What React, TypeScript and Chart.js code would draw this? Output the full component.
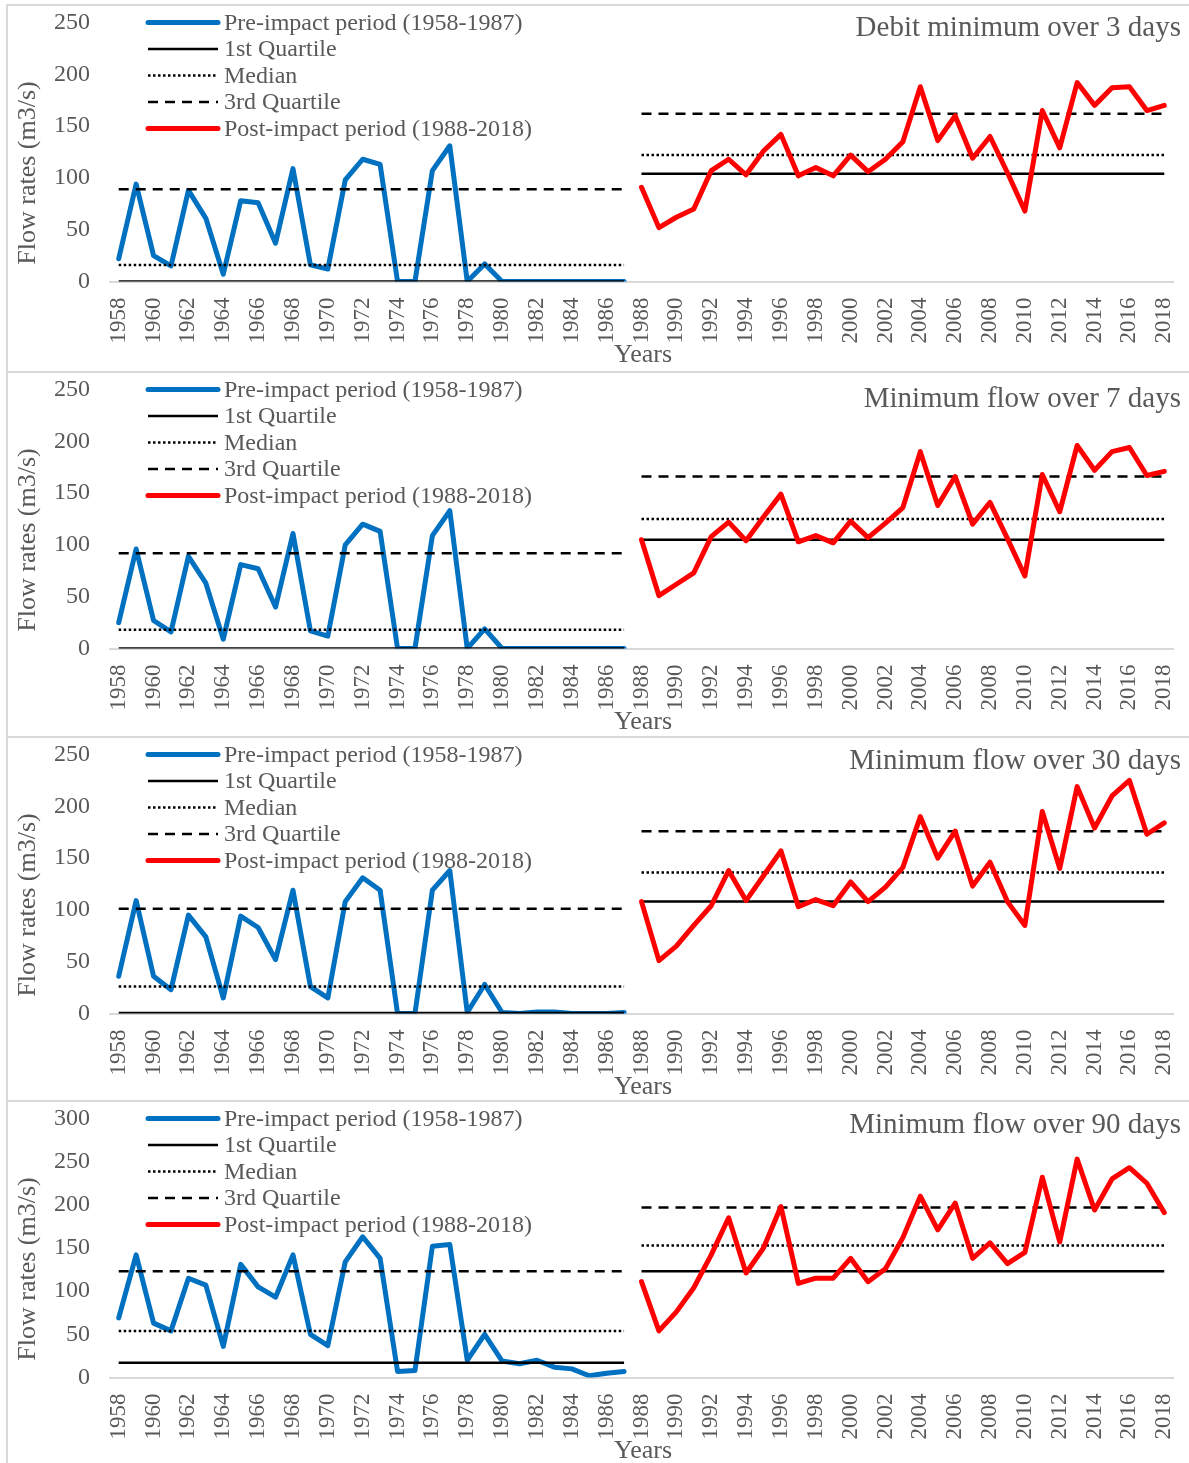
import React, { useEffect, useRef } from "react";
import { Chart, registerables } from "chart.js";

Chart.register(...registerables);

// Hydrological years on the category axis
const years = [
  "1958", "1959", "1960", "1961", "1962", "1963", "1964", "1965", "1966", "1967",
  "1968", "1969", "1970", "1971", "1972", "1973", "1974", "1975", "1976", "1977",
  "1978", "1979", "1980", "1981", "1982", "1983", "1984", "1985", "1986", "1987",
  "1988", "1989", "1990", "1991", "1992", "1993", "1994", "1995", "1996", "1997",
  "1998", "1999", "2000", "2001", "2002", "2003", "2004", "2005", "2006", "2007",
  "2008", "2009", "2010", "2011", "2012", "2013", "2014", "2015", "2016", "2017",
  "2018",
];

// Minimum flow over 3 days (m3/s)
const pre3 = [22, 94, 25, 15, 88, 61, 7, 78, 76, 37, 109, 16, 12, 98, 118, 113, 0, 0, 107, 131, 0, 17, 0, 0, 0, 0, 0, 0, 0, 0];
const post3 = [91, 52, 62, 70, 107, 118, 103, 126, 142, 102, 110, 102, 122, 106, 118, 135, 188, 136, 160, 119, 140, 105, 68, 165, 129, 192, 170, 187, 188, 165, 170];
const pre3Quartiles = [0, 16, 89]; // Q1, median, Q3
const post3Quartiles = [104, 122, 162];

// Minimum flow over 7 days (m3/s)
const pre7 = [25, 96, 27, 16, 89, 63, 9, 81, 77, 40, 111, 17, 12, 100, 120, 113, 0, 0, 109, 133, 0, 19, 0, 0, 0, 0, 0, 0, 0, 0];
const post7 = [105, 51, 62, 73, 108, 122, 104, 127, 149, 103, 109, 102, 123, 107, 121, 136, 190, 138, 166, 120, 141, 106, 70, 168, 132, 196, 172, 190, 194, 167, 171];
const pre7Quartiles = [0, 18, 92];
const post7Quartiles = [105, 125, 166];

// Minimum flow over 30 days (m3/s)
const pre30 = [36, 109, 36, 23, 95, 74, 15, 94, 83, 52, 119, 26, 15, 108, 131, 119, 0, 0, 119, 138, 1, 28, 1, 0, 1.5, 1.5, 0, 0, 0, 1];
const post30 = [108, 51, 65, 85, 104, 138, 109, 133, 157, 103, 110, 104, 127, 108, 122, 141, 190, 150, 176, 123, 146, 108, 85, 195, 140, 219, 179, 210, 225, 173, 184];
const pre30Quartiles = [0.5, 26, 101];
const post30Quartiles = [108, 136, 176];

// Minimum flow over 90 days (m3/s)
const pre90 = [69, 142, 63, 54, 115, 107, 36, 131, 105, 93, 142, 50, 37, 134, 163, 138, 7, 8, 152, 154, 20, 50, 19, 16, 20, 12, 10, 2, 5, 7];
const post90 = [111, 54, 76, 104, 142, 185, 121, 150, 198, 109, 115, 115, 138, 111, 126, 162, 210, 171, 202, 138, 156, 132, 145, 232, 157, 253, 194, 230, 243, 225, 191];
const pre90Quartiles = [17, 54, 123];
const post90Quartiles = [123, 153, 197];

const panelTitles = [
  "Debit minimum over 3 days",
  "Minimum flow over 7 days",
  "Minimum flow over 30 days",
  "Minimum flow over 90 days",
];
const yMaxima = [250, 250, 250, 300];

const legendLabels = [
  "Pre-impact period (1958-1987)",
  "1st Quartile",
  "Median",
  "3rd Quartile",
  "Post-impact period (1988-2018)",
];

const BLUE = "#0070C0";
const RED = "#FF0000";
const TEXT = "#595959";
const FONT = "'Liberation Serif', 'Times New Roman', serif";

const CANVAS_W = 1185;
const PLOT_TOP = 16.5;
const PLOT_BOTTOM = 275.5;
const PLOT_LEFT = 102;
const PLOT_RIGHT = 1165;

const DOTTED = [2.5, 2.5];
const DASHED = [10, 7];

const panels = [
  { pre: pre3, post: post3, preQ: pre3Quartiles, postQ: post3Quartiles, height: 365, titleY: 22 },
  { pre: pre7, post: post7, preQ: pre7Quartiles, postQ: post7Quartiles, height: 363, titleY: 26 },
  { pre: pre30, post: post30, preQ: pre30Quartiles, postQ: post30Quartiles, height: 362, titleY: 23 },
  { pre: pre90, post: post90, preQ: pre90Quartiles, postQ: post90Quartiles, height: 365, titleY: 23 },
];

// Legend, panel heading and axis titles drawn over the plot
const panelDecor = {
  id: "panelDecor",
  afterDatasetsDraw(chart: any, _args: any, opts: any) {
    const ctx: CanvasRenderingContext2D = chart.ctx;
    ctx.save();

    // legend column in the top-left of the plot
    const rowTop = 16.5;
    const rowGap = 26.5;
    const x0 = 140;
    const x1 = 210;
    const samples = [
      { color: BLUE, width: 5, dash: [] as number[], cap: "round" },
      { color: "#000", width: 2.5, dash: [] as number[], cap: "butt" },
      { color: "#000", width: 2.5, dash: DOTTED, cap: "butt" },
      { color: "#000", width: 2.5, dash: DASHED, cap: "butt" },
      { color: RED, width: 5, dash: [] as number[], cap: "round" },
    ];
    ctx.font = `24px ${FONT}`;
    ctx.textBaseline = "middle";
    ctx.textAlign = "left";
    legendLabels.forEach((label, i) => {
      const y = rowTop + i * rowGap;
      const s = samples[i];
      ctx.beginPath();
      ctx.strokeStyle = s.color;
      ctx.lineWidth = s.width;
      ctx.lineCap = s.cap as CanvasLineCap;
      ctx.setLineDash(s.dash);
      ctx.moveTo(x0, y);
      ctx.lineTo(x1, y);
      ctx.stroke();
      ctx.setLineDash([]);
      ctx.fillStyle = TEXT;
      ctx.fillText(label, 216, y + 1);
    });

    // panel heading
    ctx.font = `29px ${FONT}`;
    ctx.textAlign = "right";
    ctx.fillStyle = TEXT;
    ctx.fillText(opts.title, 1173, opts.titleY);

    // x axis title
    ctx.font = `26px ${FONT}`;
    ctx.textAlign = "center";
    ctx.fillText("Years", 635, 349);

    // y axis title
    ctx.translate(20, 167);
    ctx.rotate(-Math.PI / 2);
    ctx.fillText("Flow rates (m3/s)", 0, 0);

    ctx.restore();
  },
};

function periodLine(value: number, before: number, after: number) {
  const out: (number | null)[] = [];
  for (let i = 0; i < before; i++) out.push(null);
  for (let i = 0; i < after; i++) out.push(value);
  return out;
}

function Panel({ index }: { index: number }) {
  const ref = useRef<HTMLCanvasElement>(null);
  const p = panels[index];

  useEffect(() => {
    const nPre = p.pre.length;
    const nPost = p.post.length;
    const nulls = (n: number) => new Array(n).fill(null);
    const quartileStyles = [[], DOTTED, DASHED];

    const quartileSets: any[] = [];
    [p.preQ, p.postQ].forEach((qs, period) => {
      qs.forEach((q, k) => {
        const data =
          period === 0
            ? [...periodLine(q, 0, nPre), ...nulls(nPost)]
            : periodLine(q, nPre, nPost);
        quartileSets.push({
          label: `q${period}${k}`,
          data,
          borderColor: "#000",
          borderWidth: 2.5,
          borderDash: quartileStyles[k],
          borderCapStyle: "butt",
          pointRadius: 0,
          fill: false,
          order: 1,
        });
      });
    });

    const chart = new Chart(ref.current!, {
      type: "line",
      data: {
        labels: years,
        datasets: [
          {
            label: legendLabels[4],
            data: [...nulls(nPre), ...p.post],
            borderColor: RED,
            borderWidth: 5,
            borderCapStyle: "round",
            borderJoinStyle: "round",
            pointRadius: 0,
            fill: false,
            order: 0,
          },
          ...quartileSets,
          {
            label: legendLabels[0],
            data: [...p.pre, ...nulls(nPost)],
            borderColor: BLUE,
            borderWidth: 5,
            borderCapStyle: "round",
            borderJoinStyle: "round",
            pointRadius: 0,
            fill: false,
            order: 2,
          },
        ],
      },
      options: {
        animation: false,
        responsive: false,
        maintainAspectRatio: false,
        layout: {
          padding: { top: PLOT_TOP, left: 0, right: CANVAS_W - PLOT_RIGHT, bottom: 0 },
        },
        plugins: {
          legend: { display: false },
          tooltip: { enabled: false },
          panelDecor: { title: panelTitles[index], titleY: p.titleY },
        } as any,
        scales: {
          x: {
            type: "category",
            offset: true,
            grid: { display: false, drawTicks: false },
            border: { display: true, color: "#d9d9d9", width: 2 },
            ticks: {
              autoSkip: false,
              minRotation: 90,
              maxRotation: 90,
              padding: 16,
              color: TEXT,
              font: { family: FONT, size: 23 },
              callback: (_v: any, i: number) => (i % 2 === 0 ? years[i] : ""),
            },
            afterFit: (s: any) => {
              s.height = p.height - PLOT_BOTTOM;
              s.paddingLeft = 0;
              s.paddingRight = 0;
            },
          },
          y: {
            min: 0,
            max: yMaxima[index],
            grid: { display: false, drawTicks: false },
            border: { display: false },
            ticks: {
              stepSize: 50,
              padding: 20,
              color: TEXT,
              font: { family: FONT, size: 24 },
            },
            afterFit: (s: any) => {
              s.width = PLOT_LEFT;
              s.paddingTop = 0;
              s.paddingBottom = 0;
            },
          },
        },
      } as any,
      plugins: [panelDecor as any],
    });
    return () => chart.destroy();
  }, [index]);

  return (
    <div
      style={{
        width: 1189,
        height: p.height,
        borderTop: "2px solid #d9d9d9",
        borderLeft: "2px solid #d9d9d9",
        borderRight: "2px solid #d9d9d9",
        background: "#fff",
      }}
    >
      <canvas ref={ref} width={CANVAS_W} height={p.height} style={{ display: "block" }} />
    </div>
  );
}

export default function App() {
  return (
    <div
      style={{
        position: "absolute",
        left: 6,
        top: 4,
        width: 1183,
        height: 1459,
        overflow: "hidden",
        background: "#fff",
      }}
    >
      {panels.map((_, i) => (
        <Panel key={i} index={i} />
      ))}
    </div>
  );
}
